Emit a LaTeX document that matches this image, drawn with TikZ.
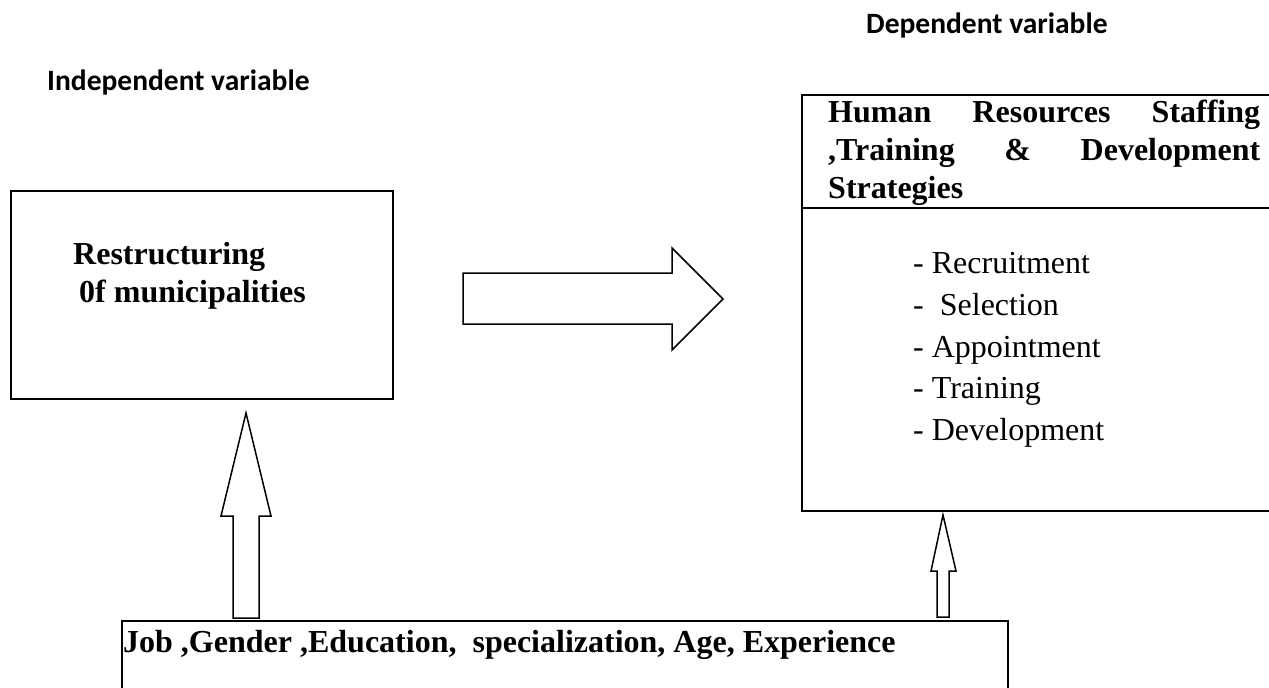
\documentclass[tikz,border=0pt]{standalone}
\usepackage{fontspec}
\setmainfont{Liberation Serif}
\newfontfamily\headfont{Carlito}
\begin{document}
\begin{tikzpicture}[x=1pt,y=-1pt,
  frame/.style={draw=black,line width=2.8pt,inner sep=0pt,outer sep=0pt,anchor=north west},
  rule/.style={draw=black,line width=2.8pt},
  blockarrow/.style={draw=black,line width=1.5pt,fill=white,line join=miter},
  heading/.style={font=\headfont\bfseries\fontsize{29.5}{34}\selectfont,anchor=base west,inner sep=0pt},
  boldtext/.style={font=\bfseries\fontsize{32}{38}\selectfont,anchor=base west,inner sep=0pt},
  plaintext/.style={font=\fontsize{32}{38}\selectfont,anchor=base west,inner sep=0pt}]
\useasboundingbox (0,0) rectangle (1269,688);
\clip (0,0) rectangle (1269,688);

% variable headings
\node[heading] (indep) at (47,90) {Independent variable};
\node[heading] (dep) at (866,33) {Dependent variable};

% independent variable box
\node[frame,minimum width=382pt,minimum height=208pt] (restr) at (11,191) {};
\node[boldtext] (restr1) at (73,264) {Restructuring};
\node[boldtext] (restr2) at (79,302) {0f municipalities};

% dependent variable box, open to the right
\node[frame,minimum width=480pt,minimum height=416pt] (hr) at (802,95) {};
\coordinate (divl) at (802,208);
\coordinate (divr) at (1285,208);
\draw[rule] (divl) -- (divr);
\node[boldtext] (hrt1) at (828,122) {\makebox[432pt][s]{Human Resources Staffing}};
\node[boldtext] (hrt2) at (828,160) {\makebox[432pt][s]{,Training \& Development}};
\node[boldtext] (hrt3) at (828,198) {Strategies};
\node[plaintext] (l1) at (913,273) {- Recruitment};
\node[plaintext] (l2) at (913,315) {-\ \ Selection};
\node[plaintext] (l3) at (913,357) {- Appointment};
\node[plaintext] (l4) at (913,398) {- Training};
\node[plaintext] (l5) at (913,440) {- Development};

% moderating variables box, open at the bottom
\node[frame,minimum width=886pt,minimum height=120pt] (demo) at (122,621) {};
\node[boldtext] (demot) at (123,652) {Job ,Gender ,Education,\ \ specialization, Age, Experience};

% block arrows
\draw[blockarrow] (463,273) -- (672,273) -- (672,248) -- (723,299) -- (672,350)
  -- (672,324) -- (463,324) -- cycle;
\draw[blockarrow] (233,618) -- (233,516) -- (221,516) -- (246,413) -- (271,516)
  -- (259,516) -- (259,618) -- cycle;
\draw[blockarrow] (937,617) -- (937,571) -- (931,571) -- (943,515) -- (956,571)
  -- (949,571) -- (949,617) -- cycle;
\end{tikzpicture}
\end{document}
